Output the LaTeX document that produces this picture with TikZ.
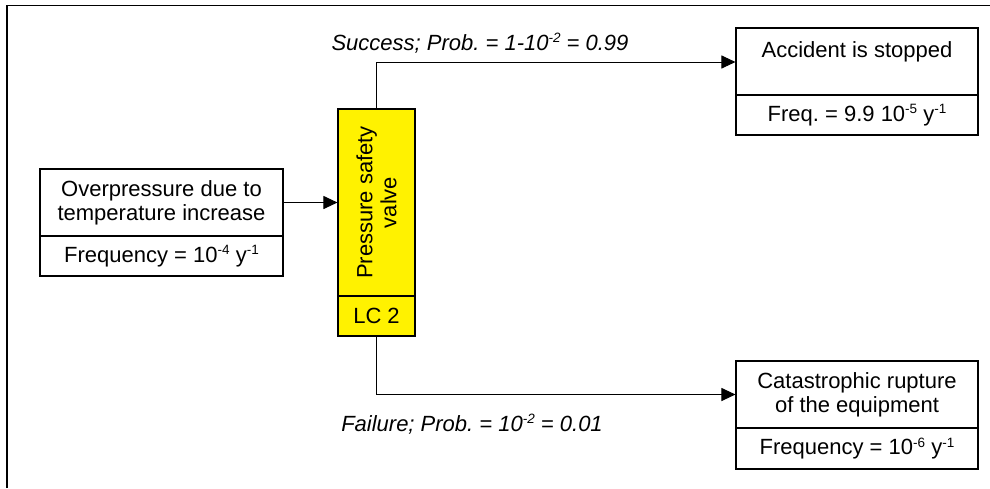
\documentclass[tikz,border=0pt]{standalone}
\usepackage{fontspec}
\setmainfont{Liberation Sans}
\usetikzlibrary{arrows.meta}
\frenchspacing
\newcommand\spx[1]{\raisebox{7.5pt}{\fontsize{13.5}{13.5}\selectfont #1}}
\tikzset{
  box/.style={draw, line width=1.1pt, rectangle, inner sep=0pt, align=center,
    font=\fontsize{22}{24}\selectfont},
  lbl/.style={inner sep=0pt, font=\fontsize{22}{24}\selectfont\itshape},
  conn/.style={line width=1pt},
  arr/.style={conn, -{Triangle[length=14pt,width=13pt]}},
  frame/.style={line width=1.2pt}
}
\begin{document}
\begin{tikzpicture}[x=1pt,y=-1pt]
\useasboundingbox (0,0) rectangle (990,488);
\draw[frame] (7,488) -- (7,5.5) -- (990,5.5);
% left box
\node[box, minimum width=243pt, minimum height=67pt] (ltop) at (161.5,202.5) {Overpressure due to\\temperature increase};
\node[box, minimum width=243pt, minimum height=40pt] (lbot) at (161.5,256) {Frequency = 10\spx{-4} y\spx{-1}};
% valve
\node[box, fill=yellow, minimum width=77pt, minimum height=187pt] (vtop) at (376.5,202.5) {};
\node[rotate=90, align=center, inner sep=0pt, font=\fontsize{22}{24}\selectfont] (vtxt) at (vtop.center) {Pressure safety\\valve};
\node[box, fill=yellow, minimum width=77pt, minimum height=40pt] (vbot) at (376.5,316) {LC 2};
% right boxes
\node[box, minimum width=242pt, minimum height=67pt] (atop) at (857,61.5) {Accident is stopped\\\mbox{}};
\node[box, minimum width=242pt, minimum height=40pt] (abot) at (857,115) {Freq. = 9.9 10\spx{-5} y\spx{-1}};
\node[box, minimum width=242pt, minimum height=67pt] (ctop) at (857,394.5) {Catastrophic rupture\\of the equipment};
\node[box, minimum width=242pt, minimum height=41pt] (cbot) at (857,448.5) {Frequency = 10\spx{-6} y\spx{-1}};
% connectors
\draw[arr] (ltop.east) -- (ltop.east -| vtop.west);
\draw[arr] (vtop.north) |- (atop.west |- 0,62);
\draw[arr] (vbot.south) |- (ctop.west);
% labels
\node[lbl] (ls) at (480,43) {Success; Prob. = 1-10\spx{-2} = 0.99};
\node[lbl] (lf) at (472,424) {Failure; Prob. = 10\spx{-2} = 0.01};
\end{tikzpicture}
\end{document}
